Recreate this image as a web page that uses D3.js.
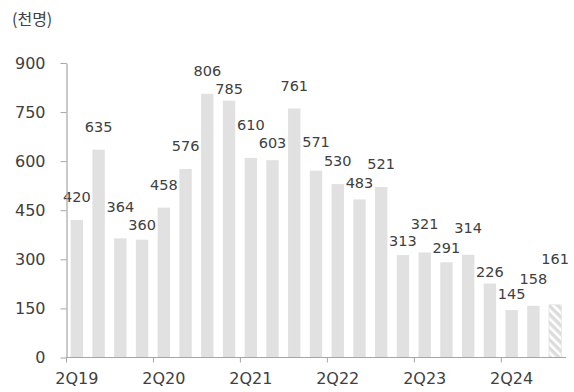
<!DOCTYPE html>
<html>
<head>
<meta charset="utf-8">
<script src="https://cdn.jsdelivr.net/npm/d3@7/dist/d3.min.js"></script>
<style>
  html, body { margin: 0; padding: 0; background: #fff; }
  svg { display: block; font-family: "DejaVu Sans", "Noto Sans CJK KR", sans-serif; }
</style>
</head>
<body>
<svg id="chart" width="574" height="392"></svg>
<script>
// Quarterly values (thousand persons), 2Q19 – 4Q24; the last quarter is an estimate
const quarters = ["2Q19","3Q19","4Q19","1Q20","2Q20","3Q20","4Q20","1Q21","2Q21","3Q21","4Q21","1Q22",
                  "2Q22","3Q22","4Q22","1Q23","2Q23","3Q23","4Q23","1Q24","2Q24","3Q24","4Q24"];
const values = [420, 635, 364, 360, 458, 576, 806, 785, 610, 603, 761, 571,
                530, 483, 521, 313, 321, 291, 314, 226, 145, 158, 161];
const estimated = ["4Q24"];
const yTicks = [0, 150, 300, 450, 600, 750, 900];
const xTickLabels = ["2Q19","2Q20","2Q21","2Q22","2Q23","2Q24"];
const unitLabel = "(천명)";

// Extra lift (px) of each value label above its bar, to keep neighbours apart
const labelLift = [23, 23, 32, 15, 23, 23, 23, 12, 33, 17, 23, 29,
                   23, 17, 23, 14, 29, 14, 27, 12, 16, 27, 46];

const svg = d3.select("#chart");
const margin = { left: 66, right: 8, top: 63, bottom: 34 };
const W = 574, H = 392;

const x = d3.scaleBand()
  .domain(quarters)
  .range([margin.left, W - margin.right])
  .paddingInner(0.43)
  .paddingOuter(0.215);

const y = d3.scaleLinear()
  .domain([0, 900])
  .range([H - margin.bottom - 0.5, margin.top]);

const axisColor = "#a6a6a6";
const textColor = "#404040";
const barColor = "#e1e1e1";

// Hatch pattern for the estimated quarter
const defs = svg.append("defs");
const pat = defs.append("pattern")
  .attr("id", "hatch")
  .attr("patternUnits", "userSpaceOnUse")
  .attr("width", 6).attr("height", 6)
  .attr("patternTransform", "rotate(-45)");
pat.append("rect").attr("width", 6).attr("height", 6).attr("fill", "#dcdcdc");
pat.append("rect").attr("width", 2.6).attr("height", 6).attr("fill", "#ffffff");

// Unit label
svg.append("text")
  .attr("x", 12).attr("y", 25)
  .attr("fill", textColor)
  .attr("font-size", 16)
  .attr("font-family", "'Noto Sans CJK KR', sans-serif")
  .text(unitLabel);

// Bars
svg.append("g").selectAll("rect")
  .data(quarters)
  .join("rect")
  .attr("x", d => x(d))
  .attr("width", x.bandwidth())
  .attr("y", (d, i) => y(values[i]))
  .attr("height", (d, i) => y(0) - y(values[i]))
  .attr("fill", d => estimated.includes(d) ? "url(#hatch)" : barColor)
  .attr("stroke", d => estimated.includes(d) ? "#e4e4e4" : "none")
  .attr("stroke-width", 0.8);

// Value labels
svg.append("g").selectAll("text")
  .data(quarters)
  .join("text")
  .attr("x", d => x(d) + x.bandwidth() / 2)
  .attr("y", (d, i) => y(values[i]) - labelLift[i])
  .attr("dy", "0.36em")
  .attr("text-anchor", "middle")
  .attr("fill", textColor)
  .attr("font-size", 14.5)
  .text((d, i) => values[i]);

// Y axis
const yAxis = svg.append("g")
  .attr("transform", `translate(${margin.left + 0.5},0)`)
  .call(d3.axisLeft(y).tickValues(yTicks).tickSize(6).tickPadding(15).tickSizeOuter(0));
yAxis.select(".domain").attr("stroke", axisColor).attr("stroke-width", 1.2);
yAxis.selectAll(".tick line").attr("stroke", axisColor);
yAxis.selectAll(".tick text")
  .attr("fill", textColor)
  .attr("font-size", 16)
  .attr("font-family", "'DejaVu Sans', sans-serif");

// X axis: baseline, boundary ticks every year, labels centred on the 2Q bars
const step = x.step();
const gap = step - x.bandwidth();
const xAxis = svg.append("g");
xAxis.append("line")
  .attr("x1", margin.left).attr("x2", x(quarters[quarters.length - 1]) + x.bandwidth() + gap / 2)
  .attr("y1", y(0)).attr("y2", y(0))
  .attr("stroke", axisColor).attr("stroke-width", 1.2);
xAxis.selectAll("line.tick")
  .data(xTickLabels)
  .join("line")
  .attr("class", "tick")
  .attr("x1", d => x(d) - gap / 2 + 0.5).attr("x2", d => x(d) - gap / 2 + 0.5)
  .attr("y1", y(0)).attr("y2", y(0) + 5)
  .attr("stroke", axisColor);
xAxis.selectAll("text")
  .data(xTickLabels)
  .join("text")
  .attr("x", d => x(d) + x.bandwidth() / 2)
  .attr("y", y(0) + 21)
  .attr("dy", "0.36em")
  .attr("text-anchor", "middle")
  .attr("fill", textColor)
  .attr("font-size", 16)
  .text(d => d);
</script>
</body>
</html>
